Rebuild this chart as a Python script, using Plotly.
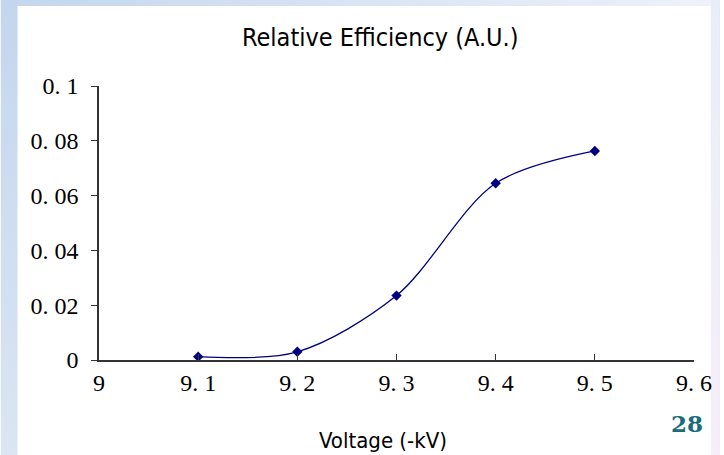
import base64
import plotly.graph_objects as go

# Measured relative efficiency versus applied voltage
voltage_kv = [9.1, 9.2, 9.3, 9.4, 9.5]
efficiency = [0.0012, 0.003, 0.0235, 0.0645, 0.0763]

x_ticks = [9.0, 9.1, 9.2, 9.3, 9.4, 9.5, 9.6]
x_tick_text = ["9", "9. 1", "9. 2", "9. 3", "9. 4", "9. 5", "9. 6"]
y_ticks = [0, 0.02, 0.04, 0.06, 0.08, 0.1]
y_tick_text = ["0", "0. 02", "0. 04", "0. 06", "0. 08", "0. 1"]

W, H = 724, 455
ML, MR, MT, MB = 99, 26, 86, 95

# Slide backdrop: blue gradient frame around a white content panel
svg = f"""<svg xmlns='http://www.w3.org/2000/svg' width='{W}' height='{H}' viewBox='0 0 {W} {H}'>
<defs>
<linearGradient id='lv' x1='0' y1='0' x2='0' y2='1'>
<stop offset='0' stop-color='#c4d6ed'/><stop offset='1' stop-color='#dbe5f3'/></linearGradient>
<linearGradient id='th' x1='0' y1='0' x2='1' y2='0'>
<stop offset='0' stop-color='#c4d6ed'/><stop offset='1' stop-color='#eef2fa'/></linearGradient>
<linearGradient id='rv' x1='0' y1='0' x2='0' y2='1'>
<stop offset='0' stop-color='#e8eef8'/><stop offset='1' stop-color='#f6eef9'/></linearGradient>
</defs>
<rect x='0' y='0' width='{W}' height='{H}' fill='url(#lv)'/>
<rect x='0' y='0' width='{W}' height='6' fill='url(#th)'/>
<rect x='715' y='0' width='{W-715}' height='{H}' fill='url(#rv)'/>
<rect x='0' y='0' width='17' height='{H}' fill='url(#lv)'/>
<rect x='17' y='6' width='698' height='{H-6}' fill='#ffffff'/>
</svg>"""
bg_uri = "data:image/svg+xml;base64," + base64.b64encode(svg.encode()).decode()

pw, ph = W - ML - MR, H - MT - MB


def px_x(p):
    return (p - ML) / pw


def px_y(p):
    return (H - MB - p) / ph


fig = go.Figure()
fig.add_trace(go.Scatter(
    x=voltage_kv, y=efficiency,
    mode="lines+markers",
    line=dict(color="#000080", width=1.3, shape="spline", smoothing=0.9),
    marker=dict(symbol="diamond", size=8, color="#000080"),
    showlegend=False,
))

tick_font = dict(family="Liberation Serif, serif", size=24, color="#000000")
axis_color = "#333333"

fig.update_layout(
    width=W, height=H,
    margin=dict(l=ML, r=MR, t=MT, b=MB),
    paper_bgcolor="#ffffff",
    plot_bgcolor="rgba(0,0,0,0)",
    images=[dict(
        source=bg_uri, xref="paper", yref="paper",
        x=px_x(0), y=px_y(0), sizex=W / pw, sizey=H / ph,
        xanchor="left", yanchor="top", sizing="stretch", layer="below",
    )],
    xaxis=dict(
        range=[9.0, 9.6], tickvals=x_ticks, ticktext=x_tick_text,
        ticks="inside", ticklen=6, tickwidth=1.3, tickcolor=axis_color,
        showline=True, linecolor=axis_color, linewidth=1.6,
        showgrid=False, zeroline=False, tickfont=tick_font,
        ticklabelstandoff=0,
    ),
    yaxis=dict(
        range=[0, 0.1], tickvals=y_ticks, ticktext=y_tick_text,
        ticks="outside", ticklen=6, tickwidth=1.3, tickcolor=axis_color,
        showline=True, linecolor=axis_color, linewidth=1.6,
        showgrid=False, zeroline=False, tickfont=tick_font,
        ticklabelstandoff=8,
    ),
    annotations=[
        dict(text="Relative Efficiency (A.U.)", xref="paper", yref="paper",
             x=px_x(382), y=px_y(37), xanchor="center", yanchor="middle",
             showarrow=False,
             font=dict(family="DejaVu Sans Condensed, DejaVu Sans", size=25, color="#000000")),
        dict(text="Voltage (-kV)", xref="paper", yref="paper",
             x=px_x(385), y=px_y(440), xanchor="center", yanchor="middle",
             showarrow=False,
             font=dict(family="DejaVu Sans Condensed, DejaVu Sans", size=22, color="#000000")),
        dict(text="28", xref="paper", yref="paper",
             x=px_x(691), y=px_y(423), xanchor="center", yanchor="middle",
             showarrow=False,
             font=dict(family="DejaVu Serif, serif", size=23, color="#1c6b7c", weight="bold")),
    ],
)

fig.write_html("out.html")
